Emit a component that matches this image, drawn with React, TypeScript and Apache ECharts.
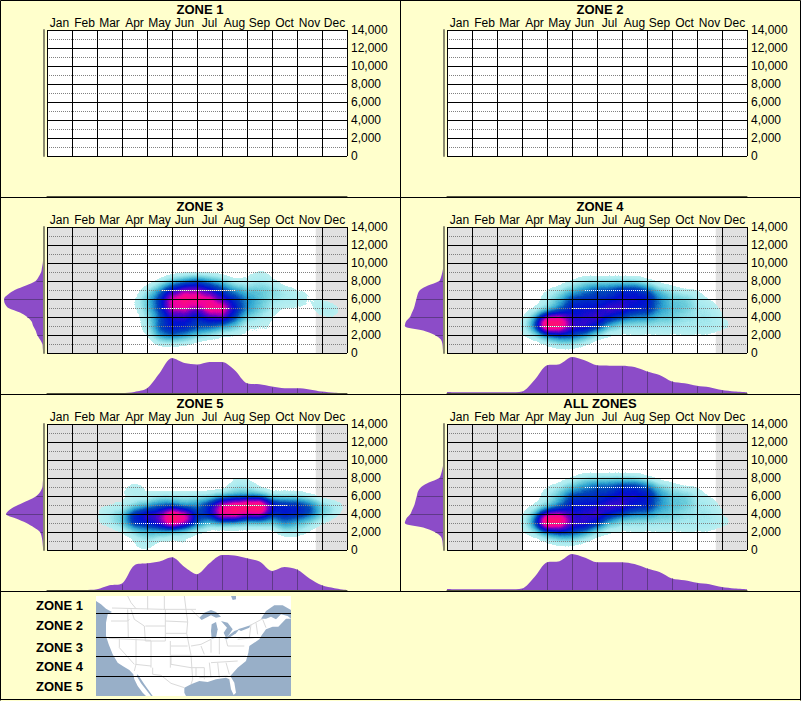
import React, { useEffect, useRef } from "react";
import * as echarts from "echarts";

const months = ["Jan","Feb","Mar","Apr","May","Jun","Jul","Aug","Sep","Oct","Nov","Dec"];
const elevTicks = [0,500,1000,1500,2000,2500,3000,3500,4000,4500,5000,5500,6000,6500,7000,7500,8000,8500,9000,9500,10000,10500,11000,11500,12000,12500,13000,13500,14000];
const greyBands = [[0,3],[10.75,12]];
const heatLevels = [0,0.1,0.2,0.3,0.4,0.5,0.58,0.69,0.85,1];
const heatColors = ["rgba(200,245,245,0)","rgba(190,240,240,0.45)","rgba(170,235,240,0.9)","#70D0DC","#2CA4D0","#0048B8","#0010D0","#6000C8","#F000A0","#FF1070","#FF1060","#FF1060","#FF1060","#FF1060","#FF1060"];

// rows: elevation in thousands (key), columns: half-month steps, digit = density level
const heatZone3: Record<number,string> = {
  10:"0000000000000000010000000",
  9:"0000000000000000111000000",
  8:"0000000001345431121000000",
  7:"0000000024677654333211000",
  6:"0000000135899865432221100",
  5:"0000000135887996432111220",
  4:"0000000024665675321000110",
  3:"0000000025665543111111000",
  2:"0000000014543211111111000",
  1:"0000000001110000000000000",
};
const heatZone4: Record<number,string> = {
  8:"0000000000122222100000000",
  7:"0000000012345566532110000",
  6:"0000000023555566643321000",
  5:"0000000124666776643322100",
  4:"0000001355667654433222100",
  3.5:"0000000056000000000000000",
  3:"1100111598776322222222211",
  2:"0000001245542111111111000",
  1:"0000000012210000000000000",
};
const heatZone5: Record<number,string> = {
  8:"0000000000000001100000000",
  7:"0000001210000002210000000",
  6:"0000001112222233332221000",
  5:"0000111234434688997665321",
  4.5:"0000000000000004450000000",
  4:"0000123677875698665665320",
  3.5:"0000000000550000000000000",
  3:"0000123667865333333432100",
  2:"0000001233221000000221000",
  1:"0000000121110001000000000",
  0:"0000000110010000000000000",
};
const heatAll: Record<number,string> = {
  8:"0000000000122222100000000",
  7:"0000000012345566532110000",
  6:"0000000023555566643321000",
  5:"0000000124666776643322100",
  4:"0000001355667654433222100",
  3.5:"0000000056000000000000000",
  3:"1100111598776322222222211",
  2:"0000001245542111111111000",
  1:"0000000012210000000000000",
};

// bottom margin density (percent), half-month steps
const monthZone3 = [0,0,0,0,0,0,0,3,13,55,97,83,79,86,86,64,27,24,18,13,13,10,4,1,0];
const monthZone4 = [3,2,2,2,2,2,4,36,77,80,100,91,77,76,76,72,60,50,32,27,20,16,8,4,2];
const monthZone5 = [0,0,0,0,2,13,18,69,74,79,91,64,44,74,97,96,88,79,53,64,57,32,13,5,0];
const monthAll = [3,2,2,2,2,2,4,36,77,80,100,90,77,77,77,72,60,50,32,27,20,16,8,4,2];

// left margin density (percent), one value per entry of elevTicks
const elevZone3 = [2,3,4,10,17,21,27,31,42,60,89,98,100,90,73,45,21,13,7,5,3,2,0,0,0,0,0,0,0];
const elevZone4 = [2,3,4,8,23,52,98,95,85,80,75,72,69,66,60,40,12,7,4,2,1,0,0,0,0,0,0,0,0];
const elevZone5 = [2,3,4,6,10,25,44,70,95,85,65,40,19,9,4,3,2,0,0,0,0,0,0,0,0,0,0,0,0];
const elevAll = [2,3,4,8,23,52,98,94,84,79,74,71,68,65,57,38,12,7,4,2,1,0,0,0,0,0,0,0,0];

// light dots where the gridline crosses dark density: [elevation, from month, to month]
const lightZone3 = [[7000,4.6,7.5],[5000,4.6,7.3]];
const lightZone4 = [[7000,5.5,8],[5000,5,7.8],[3000,3.7,6.5]];
const lightZone5 = [[5000,7,9.6],[3000,3.5,6.5]];

const panels = [
  { name:"ZONE 1", col:0, row:0 },
  { name:"ZONE 2", col:1, row:0 },
  { name:"ZONE 3", col:0, row:1, heat:heatZone3, month:monthZone3, elev:elevZone3, light:lightZone3 },
  { name:"ZONE 4", col:1, row:1, heat:heatZone4, month:monthZone4, elev:elevZone4, light:lightZone4 },
  { name:"ZONE 5", col:0, row:2, heat:heatZone5, month:monthZone5, elev:elevZone5, light:lightZone5 },
  { name:"ALL ZONES", col:1, row:2, heat:heatAll, month:monthAll, elev:elevAll, light:lightZone4 },
] as any[];

const zoneLabels = [["ZONE 1",605],["ZONE 2",625],["ZONE 3",647],["ZONE 4",666],["ZONE 5",686]] as [string,number][];
const zoneLines = [613.5,637.5,656.5,676.5];

// thumbnail map outlines: west half and east half, each in its own 300x300 picture units
const W = (x:number,y:number) => [96 + x/3, 596 + y/3];
const E = (x:number,y:number) => [191 + x/3, 596 + y/3];
const mapLand = [
  E(300,0),E(300,68),E(285,68),E(262,92),E(245,92),E(225,100),E(212,118),E(205,130),E(175,150),E(172,170),E(165,195),E(140,215),E(118,240),E(130,260),E(135,290),E(128,297),E(120,280),E(115,250),E(105,245),E(75,250),E(50,258),E(25,255),E(0,265),
  W(265,275),W(265,290),W(270,300),W(170,300),W(145,265),W(125,235),W(122,240),W(135,262),W(165,300),W(150,300),W(140,290),W(125,270),W(115,250),W(112,235),W(100,222),W(80,210),W(65,200),W(50,175),W(38,145),W(30,120),W(30,80),W(35,55),W(48,48),W(30,38),W(15,25),W(0,15),W(0,0),
];
const mapWater = [
  [E(120,0),E(135,0),E(135,10),E(125,12)],
  [E(210,68),E(225,45),E(250,28),E(275,28),E(300,42),E(300,68),E(290,60),E(270,55),E(255,70),E(240,62),E(225,68)],
  [E(25,65),E(40,50),E(60,42),E(75,48),E(90,62),E(75,65),E(60,58),E(45,65),E(32,72)],
  [E(62,85),E(75,78),E(80,100),E(75,125),E(62,128),E(60,105)],
  [E(90,75),E(110,80),E(125,100),E(115,115),E(105,125),E(98,110),E(108,95)],
  [E(100,128),E(130,105),E(145,100),E(135,112),E(108,130)],
  [E(140,100),E(155,95),E(178,88),E(175,95),E(150,105)],
];
const mapBorders = [
  [W(48,36),W(200,40),W(300,40)],[W(155,0),W(155,40)],[W(205,0),W(205,40)],[W(95,0),W(105,20),W(120,38)],[W(265,0),W(270,40)],
  [W(45,75),W(95,75),W(100,70)],[W(95,40),W(97,125)],[W(105,40),W(115,70),W(145,90),W(148,135)],[W(38,127),W(165,133)],
  [W(120,128),W(120,205),W(115,225)],[W(70,128),W(70,155),W(115,205)],[W(118,205),W(165,210)],[W(165,135),W(165,215)],[W(223,135),W(223,215)],
  [W(148,90),W(208,90),W(208,135),W(148,135)],[W(208,40),W(208,90)],[W(208,52),W(270,52)],[W(208,75),W(275,78)],[W(210,112),W(272,112)],[W(225,150),W(275,150)],[W(225,178),W(285,178)],
  [W(170,215),W(170,235),W(195,238)],[W(225,178),W(225,205),W(285,215)],[W(195,238),W(225,262),W(265,275)],[W(285,178),W(290,250),W(285,265)],[W(270,40),W(275,78),W(272,112),W(285,178)],
  [E(0,40),E(25,65)],[E(0,150),E(30,145),E(60,130)],[E(30,150),E(40,175)],[E(60,130),E(60,170)],[E(85,125),E(85,175)],[E(105,130),E(110,150),E(160,150)],[E(140,130),E(190,125)],
  [E(0,180),E(165,180)],[E(0,215),E(40,215),E(40,250)],[E(15,215),E(15,240)],[E(55,200),E(60,245)],[E(80,200),E(85,245)],[E(105,200),E(115,235)],[E(60,200),E(140,195)],[E(25,245),E(110,240)],
  [E(180,85),E(175,125)],[E(195,80),E(200,115)],[E(215,70),E(225,95)],[E(178,88),E(215,68)],
];

function stemItem(horizontal: boolean) {
  return (_p: any, api: any) => {
    const a = api.value(0), b = api.value(1);
    const p0 = api.coord(horizontal ? [0, b] : [a, 0]);
    const p1 = api.coord([a, b]);
    const x0 = Math.round(p0[0]) + 0.5, y0 = Math.round(p0[1]) + 0.5;
    const x1 = horizontal ? Math.round(p1[0]) + 0.5 : x0;
    const y1 = horizontal ? y0 : Math.round(p1[1]) + 0.5;
    return { type:"line", shape:{ x1:x0, y1:y0, x2:x1, y2:y1 }, style:{ stroke:"#5F3A88", lineWidth:1 } };
  };
}
function lightItem(_p: any, api: any) {
  const p0 = api.coord([api.value(1), api.value(0)]);
  const p1 = api.coord([api.value(2), api.value(0)]);
  const y = Math.round(p0[1]) + 0.5;
  return { type:"line", shape:{ x1:Math.round(p0[0]), y1:y, x2:Math.round(p1[0]), y2:y }, style:{ stroke:"#ffffff", lineWidth:1, lineDash:[1,1] } };
}

function buildOption() {
  const grid: any[] = [], xAxis: any[] = [], yAxis: any[] = [], series: any[] = [], geo: any[] = [], title: any[] = [];
  const heatIdx: number[] = [];
  const font = "Liberation Sans, Arial, sans-serif";
  panels.forEach((pn) => {
    const ox = pn.col * 400, oy = pn.row * 197;
    title.push({ text:pn.name, left:ox + 200, top:oy + 2, textAlign:"center",
      textStyle:{ fontFamily:font, fontSize:13, fontWeight:"bold", color:"#000", lineHeight:14 }, padding:0 });
    // main grid
    const g = grid.length;
    grid.push({ left:ox + 47, top:oy + 30, width:300, height:126, show:true, backgroundColor:"#fff", borderWidth:0 });
    xAxis.push({ type:"category", gridIndex:g, data:months, position:"top", z:3,
      axisLine:{show:false}, axisTick:{show:false}, splitLine:{show:false},
      axisLabel:{ interval:0, margin:1, fontFamily:font, fontSize:12, color:"#000" } });
    const xVal = xAxis.length;
    xAxis.push({ type:"value", gridIndex:g, min:0, max:12, interval:1, z:3,
      axisLine:{show:false}, axisTick:{show:false}, axisLabel:{show:false},
      splitLine:{ show:true, lineStyle:{ color:"#000", width:1 } } });
    const yMain = yAxis.length;
    yAxis.push({ type:"value", gridIndex:g, min:0, max:14000, interval:2000, position:"right", z:3,
      axisLine:{show:false}, axisTick:{show:false},
      axisLabel:{ margin:4, padding:[2,0,0,0], fontFamily:font, fontSize:12, color:"#000", formatter:(v:number)=>v.toLocaleString("en-US") },
      splitLine:{ show:true, lineStyle:{ color:"#000", width:1 } },
      minorTick:{ show:false, splitNumber:2 },
      minorSplitLine:{ show:true, lineStyle:{ color:"#808080", width:1, type:[1,1] } } });
    if (pn.heat) {
      series.push({ type:"line", xAxisIndex:xVal, yAxisIndex:yMain, data:[], silent:true, symbol:"none", z:1,
        markArea:{ silent:true, z:1, itemStyle:{ color:"#E1E1E1", opacity:1 }, label:{show:false},
          data:greyBands.map(b=>[{ coord:[b[0],0] },{ coord:[b[1],14000] }]) } });
      const gi = geo.length;
      geo.push({ map:"heatBox", left:ox + 47, top:oy + 30, width:300, height:126, aspectScale:1, silent:true, z:0,
        label:{show:false}, itemStyle:{ areaColor:"rgba(0,0,0,0)", borderColor:"rgba(0,0,0,0)", borderWidth:0 }, emphasis:{disabled:true} });
      const pts: number[][] = [];
      Object.keys(pn.heat).forEach(k => {
        const row: string = pn.heat[k];
        for (let i = 0; i < row.length; i++) {
          const lv = heatLevels[+row[i]];
          if (lv > 0) pts.push([i / 2, +k, lv]);
        }
      });
      heatIdx.push(series.length);
      series.push({ type:"heatmap", coordinateSystem:"geo", geoIndex:gi, data:pts, pointSize:6, blurSize:12, minOpacity:1, maxOpacity:1, silent:true, z:2 });
      series.push({ type:"custom", xAxisIndex:xVal, yAxisIndex:yMain, data:pn.light, renderItem:lightItem, silent:true, z:4, encode:{ x:[1,2], y:0 } });
    }
    // bottom density grid
    const gb = grid.length;
    grid.push({ left:ox + 47, top:oy + 160, width:300, height:36 });
    const xb = xAxis.length;
    xAxis.push({ type:"value", gridIndex:gb, min:0, max:12, show:true, z:3,
      axisLine:{ show:true, onZero:false, lineStyle:{ color:"#555540", width:1 } }, axisTick:{show:false}, axisLabel:{show:false}, splitLine:{show:false} });
    const yb = yAxis.length;
    yAxis.push({ type:"value", gridIndex:gb, min:0, max:100, show:false, splitLine:{show:false} });
    if (pn.month) {
      series.push({ type:"line", xAxisIndex:xb, yAxisIndex:yb, silent:true, symbol:"none", smooth:0.3, z:2,
        lineStyle:{ width:0 }, areaStyle:{ color:"#8C4CC8", opacity:1 },
        data:pn.month.map((v:number,i:number)=>[i/2,v]) });
      const stems: number[][] = [];
      for (let m = 1; m < 12; m++) if (pn.month[m*2] > 2) stems.push([m, pn.month[m*2]]);
      series.push({ type:"custom", xAxisIndex:xb, yAxisIndex:yb, data:stems, renderItem:stemItem(false), silent:true, z:3 });
    }
    // left density grid
    const gl = grid.length;
    grid.push({ left:ox + 4, top:oy + 30, width:40, height:126 });
    const xl = xAxis.length;
    xAxis.push({ type:"value", gridIndex:gl, min:0, max:100, inverse:true, show:false, splitLine:{show:false} });
    const ylCat = yAxis.length;
    yAxis.push({ type:"category", gridIndex:gl, data:elevTicks.map(String), boundaryGap:false, position:"right", z:3,
      axisLine:{ show:true, onZero:false, lineStyle:{ color:"#8A8A70", width:2 } }, axisTick:{show:false}, axisLabel:{show:false}, splitLine:{show:false} });
    const ylVal = yAxis.length;
    yAxis.push({ type:"value", gridIndex:gl, min:0, max:14000, show:false, splitLine:{show:false} });
    if (pn.elev) {
      series.push({ type:"line", xAxisIndex:xl, yAxisIndex:ylCat, silent:true, symbol:"none", smooth:0.3, z:2,
        lineStyle:{ width:0 }, areaStyle:{ color:"#8C4CC8", opacity:1 }, data:pn.elev });
      const stems: number[][] = [];
      elevTicks.forEach((e,i)=>{ if (e % 2000 === 0 && e > 0 && pn.elev[i] > 2) stems.push([pn.elev[i], e]); });
      series.push({ type:"custom", xAxisIndex:xl, yAxisIndex:ylVal, data:stems, renderItem:stemItem(true), silent:true, z:3 });
    }
  });

  const graphic: any[] = [];
  const line = (x1:number,y1:number,x2:number,y2:number) => graphic.push({ type:"line", silent:true, z:20, shape:{x1,y1,x2,y2}, style:{ stroke:"#000", lineWidth:1 } });
  line(0.5,0.5,800.5,0.5); line(0.5,0.5,0.5,700.5); line(800.5,0.5,800.5,700.5); line(0.5,699.5,800.5,699.5);
  line(400.5,0.5,400.5,591.5); line(0.5,197.5,800.5,197.5); line(0.5,394.5,800.5,394.5); line(0.5,591.5,800.5,591.5);
  zoneLabels.forEach(([t,y])=>graphic.push({ type:"text", silent:true, z:20, x:83, y, style:{ text:t, fill:"#000", font:`bold 13px ${font}`, textAlign:"right", textVerticalAlign:"middle" } }));
  graphic.push({ type:"rect", silent:true, z:10, shape:{ x:96, y:596, width:195, height:100 }, style:{ fill:"#98AFC8" } });
  graphic.push({ type:"polygon", silent:true, z:11, shape:{ points:mapLand }, style:{ fill:"#fff" } });
  mapBorders.forEach(b=>graphic.push({ type:"polyline", silent:true, z:12, shape:{ points:b }, style:{ stroke:"#DADADA", lineWidth:1, fill:"none" } }));
  mapWater.forEach(w=>graphic.push({ type:"polygon", silent:true, z:13, shape:{ points:w }, style:{ fill:"#98AFC8" } }));
  zoneLines.forEach(y=>graphic.push({ type:"line", silent:true, z:14, shape:{ x1:96, y1:y, x2:291, y2:y }, style:{ stroke:"#000", lineWidth:1 } }));

  return {
    animation:false, backgroundColor:"#FFFFCC", title, grid, xAxis, yAxis, geo, series, graphic,
    visualMap:{ show:false, type:"continuous", min:0, max:1, dimension:2, seriesIndex:heatIdx, inRange:{ color:heatColors } },
  };
}

export default function App() {
  const ref = useRef<HTMLDivElement>(null);
  useEffect(() => {
    document.body.style.margin = "0";
    echarts.registerMap("heatBox", { type:"FeatureCollection", features:[{ type:"Feature", properties:{ name:"box" },
      geometry:{ type:"Polygon", coordinates:[[[0,0],[12,0],[12,14],[0,14],[0,0]]] } }] } as any);
    const chart = echarts.init(ref.current!, undefined, { renderer:"svg", width:801, height:701 });
    chart.setOption(buildOption() as any);
    return () => chart.dispose();
  }, []);
  return <div ref={ref} style={{ width:801, height:701 }} />;
}
